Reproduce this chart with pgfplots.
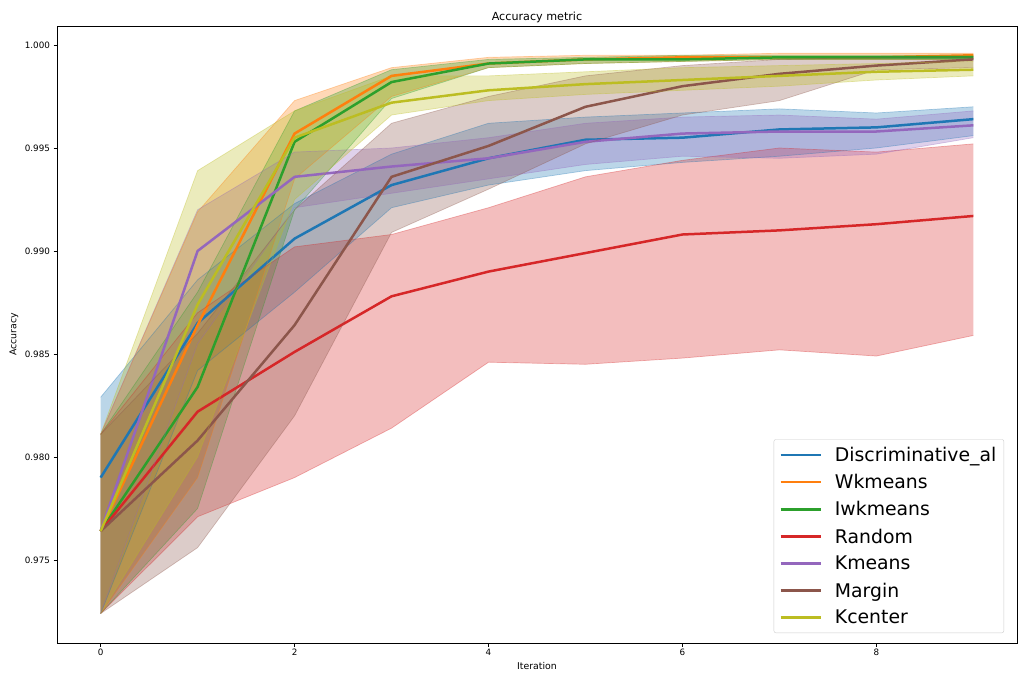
\documentclass[border=0pt]{standalone}
\usepackage{fontspec}
\setmainfont{DejaVu Sans}
\usepackage{pgfplots}
\usepackage{pgfplotstable}
\pgfplotsset{compat=1.18}
\usepgfplotslibrary{fillbetween}

\definecolor{c1}{HTML}{1F77B4}
\definecolor{c2}{HTML}{FF7F0E}
\definecolor{c3}{HTML}{2CA02C}
\definecolor{c4}{HTML}{D62728}
\definecolor{c5}{HTML}{9467BD}
\definecolor{c6}{HTML}{8C564B}
\definecolor{c7}{HTML}{BCBD22}

\pgfplotstableread{
x m lo hi
0 0.9790 0.9724 0.9829
1 0.9865 0.9842 0.9886
2 0.9906 0.9880 0.9923
3 0.9932 0.9921 0.9947
4 0.9945 0.9932 0.9962
5 0.9954 0.9939 0.9965
6 0.9955 0.9943 0.9967
7 0.9959 0.9946 0.9969
8 0.9960 0.9950 0.9967
9 0.9964 0.9956 0.9970
}\disc

\pgfplotstableread{
x m lo hi
0 0.9764 0.9724 0.9811
1 0.9864 0.9790 0.9919
2 0.9957 0.9935 0.9973
3 0.9985 0.9975 0.9989
4 0.9991 0.9989 0.9994
5 0.9993 0.9991 0.9995
6 0.9994 0.9992 0.9995
7 0.9994 0.9993 0.9996
8 0.9994 0.9993 0.9996
9 0.9995 0.9993 0.9996
}\wkm

\pgfplotstableread{
x m lo hi
0 0.9764 0.9724 0.9811
1 0.9834 0.9775 0.9880
2 0.9953 0.9920 0.9968
3 0.9982 0.9974 0.9988
4 0.9991 0.9989 0.9993
5 0.9993 0.9991 0.9994
6 0.9993 0.9992 0.9995
7 0.9994 0.9993 0.9995
8 0.9994 0.9993 0.9995
9 0.9994 0.9993 0.9995
}\iwk

\pgfplotstableread{
x m lo hi
0 0.9764 0.9724 0.9811
1 0.9822 0.9771 0.9870
2 0.9851 0.9790 0.9902
3 0.9878 0.9814 0.9908
4 0.9890 0.9846 0.9921
5 0.9899 0.9845 0.9936
6 0.9908 0.9848 0.9944
7 0.9910 0.9852 0.9950
8 0.9913 0.9849 0.9948
9 0.9917 0.9859 0.9952
}\rnd

\pgfplotstableread{
x m lo hi
0 0.9764 0.9724 0.9811
1 0.9900 0.9855 0.9920
2 0.9936 0.9921 0.9948
3 0.9941 0.9928 0.9950
4 0.9945 0.9935 0.9955
5 0.9953 0.9942 0.9962
6 0.9957 0.9946 0.9965
7 0.9958 0.9945 0.9966
8 0.9958 0.9947 0.9964
9 0.9961 0.9955 0.9968
}\kme

\pgfplotstableread{
x m lo hi
0 0.9764 0.9724 0.9811
1 0.9808 0.9756 0.9860
2 0.9864 0.9820 0.9920
3 0.9936 0.9909 0.9962
4 0.9951 0.9930 0.9975
5 0.9970 0.9952 0.9985
6 0.9980 0.9966 0.9990
7 0.9986 0.9973 0.9993
8 0.9990 0.9988 0.9994
9 0.9993 0.9989 0.9994
}\mrg

\pgfplotstableread{
x m lo hi
0 0.9764 0.9724 0.9811
1 0.9874 0.9800 0.9939
2 0.9955 0.9925 0.9968
3 0.9972 0.9966 0.9985
4 0.9978 0.9973 0.9985
5 0.9981 0.9976 0.9987
6 0.9983 0.9978 0.9989
7 0.9985 0.9980 0.9990
8 0.9987 0.9983 0.9991
9 0.9988 0.9985 0.9992
}\kce

% #1 table, #2 colour, #3 id, #4 legend text
\newcommand{\series}[4]{%
  \addplot[#2, line width=2.5bp] table[x=x,y=m]{#1};
  \addlegendentry{#4}
  \addplot[#2, draw opacity=0.35, line width=0.7bp, name path=hi#3, forget plot] table[x=x,y=hi]{#1};
  \addplot[#2, draw opacity=0.35, line width=0.7bp, name path=lo#3, forget plot] table[x=x,y=lo]{#1};
  \addplot[fill=#2, fill opacity=0.3, draw=none, forget plot] fill between[of=hi#3 and lo#3];
}

\begin{document}
\begin{tikzpicture}
\begin{axis}[
  at={(57bp,40bp)}, anchor=south west,
  scale only axis, width=960bp, height=617bp,
  xmin=-0.45, xmax=9.45, ymin=0.97097, ymax=1.000922,
  xtick={0,2,4,6,8},
  ytick={0.975,0.980,0.985,0.990,0.995,1.000},
  yticklabel style={/pgf/number format/fixed, /pgf/number format/fixed zerofill, /pgf/number format/precision=3},
  /pgf/number format/assume math mode=true,
  scaled y ticks=false,
  tick align=outside, tick pos=left,
  major tick length=3.5bp,
  every tick/.style={black, line width=0.8bp},
  axis line style={black, line width=0.8bp},
  ticklabel style={font=\fontsize{8.8}{10}\selectfont},
  xticklabel style={yshift=1bp},
  every axis title shift=0pt,
  title={Accuracy metric},
  title style={font=\fontsize{11.2}{13}\selectfont, at={(axis description cs:0.5,1.0097)}, anchor=base},
  xlabel={Iteration},
  xlabel style={font=\fontsize{9.4}{11}\selectfont, at={(axis description cs:0.5,-0.0373)}, anchor=center},
  ylabel={Accuracy},
  ylabel style={font=\fontsize{9.4}{11}\selectfont, at={(axis description cs:-0.0448,0.5)}, anchor=center},
  legend style={at={(0.9865,0.0162)}, anchor=south east,
    font=\fontsize{18.9}{22}\selectfont, draw=black!20, rounded corners=2bp,
    fill=white, fill opacity=0.8, text opacity=1, draw opacity=1,
    inner xsep=5.5bp, inner ysep=5.5bp, row sep=7.5bp, column sep=11bp},
  legend cell align=left,
  legend image code/.code={\draw[#1, line width=2.5bp] (0bp,0bp) -- (40bp,0bp);},
]
\series{\disc}{c1}{disc}{Discriminative\_al}
\series{\wkm}{c2}{wkm}{Wkmeans}
\series{\iwk}{c3}{iwk}{Iwkmeans}
\series{\rnd}{c4}{rnd}{Random}
\series{\kme}{c5}{kme}{Kmeans}
\series{\mrg}{c6}{mrg}{Margin}
\series{\kce}{c7}{kce}{Kcenter}
\end{axis}
\path (0,0) rectangle (1024bp,683bp);
\end{tikzpicture}
\end{document}
